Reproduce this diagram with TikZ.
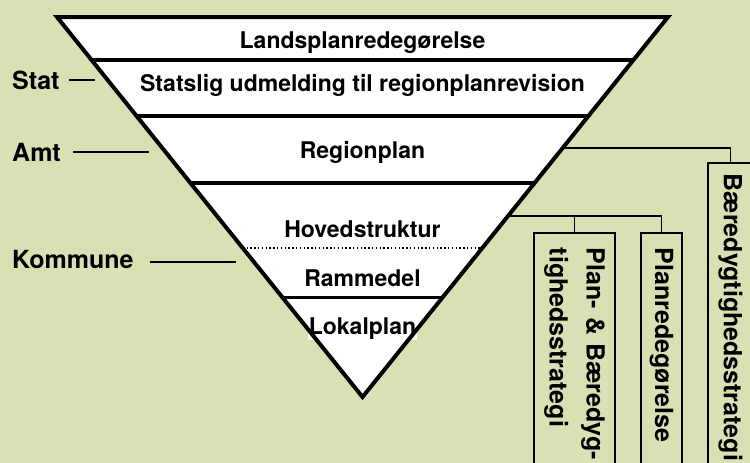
\documentclass[tikz,border=0pt]{standalone}
\usepackage{fontspec}
\setmainfont{TeX Gyre Heros}
\usetikzlibrary{calc}
\definecolor{planbg}{RGB}{218,223,180}
\begin{document}
\begin{tikzpicture}[x=1pt,y=-1pt,
    level/.style={font=\fontsize{23}{27}\selectfont\bfseries,anchor=base,inner sep=0pt},
    tier/.style={font=\fontsize{25}{29}\selectfont\bfseries,anchor=base west,inner sep=0pt},
    tick/.style={line width=2.5pt},
    rule/.style={line width=4pt},
    link/.style={line width=1.5pt},
    strat/.style={draw,line width=1.5pt,fill=planbg,rotate=-90,anchor=west,align=left,
      text width=300pt,inner ysep=2pt,font=\fontsize{25}{37}\selectfont\bfseries}]
    \useasboundingbox (0,0) rectangle (750,463);
    \clip (0,0) rectangle (750,463);
    \fill[planbg] (0,0) rectangle (750,463);

    % Planning triangle
    \coordinate (tl) at (57,17);
    \coordinate (tr) at (668,17);
    \coordinate (apex) at (362.5,397);
    \fill[white] (tl) -- (tr) -- (apex) -- cycle;
    \node[level,fill=white,inner sep=1pt] (lokal) at (362.5,334) {Lokalplan};
    \foreach \t in {0.113,0.261,0.437} {
      \draw[rule] ($(tl)!\t!(apex)$) -- ($(tr)!\t!(apex)$);
    }
    \draw[line width=1.2pt,dash pattern=on 1.4pt off 2.4pt] ($(tl)!0.608!(apex)$) -- ($(tr)!0.608!(apex)$);
    \draw[line width=3pt] ($(tl)!0.737!(apex)$) -- ($(tr)!0.737!(apex)$);
    \draw[rule] (tl) -- (tr) -- (apex) -- cycle;

    \node[level] (lands) at (362.5,48) {Landsplanredegørelse};
    \node[level] (udmeld) at (362.5,91) {Statslig udmelding til regionplanrevision};
    \node[level] (region) at (362.5,158) {Regionplan};
    \node[level] (hoved) at (362.5,237) {Hovedstruktur};
    \node[level] (ramme) at (362.5,286) {Rammedel};

    % Levels of government
    \node[tier] (stat) at (12,89) {Stat};
    \node[tier] (amt) at (12,161) {Amt};
    \node[tier] (kommune) at (12,268) {Kommune};
    \draw[tick] ([xshift=9pt]stat.east) -- ++(26,0);
    \draw[tick] ([xshift=12pt]amt.east) -- ++(76,0);
    \draw[tick] ([xshift=16pt,yshift=-3pt]kommune.east) -- ++(86,0);

    % Strategies
    \coordinate (regionside) at ($(tr)!0.345!(apex)$);
    \coordinate (hovedside) at ($(tr)!0.524!(apex)$);
    \node[strat,minimum height=45pt,inner xsep=11pt] (baered) at (730.5,162) {Bæredygtighedsstrategi};
    \node[strat,minimum height=81pt,inner xsep=15pt] (planbaered) at (574.5,232) {Plan- \& Bæredyg-\\tighedsstrategi};
    \node[strat,minimum height=41pt,inner xsep=15pt] (planred) at (661.5,232) {Planredegørelse};
    \draw[link] (regionside) -| (baered.west);
    \draw[link] (hovedside) -| (planred.west);
    \draw[link] (planbaered.west) -- (planbaered.west |- hovedside);
  \end{tikzpicture}
\end{document}
